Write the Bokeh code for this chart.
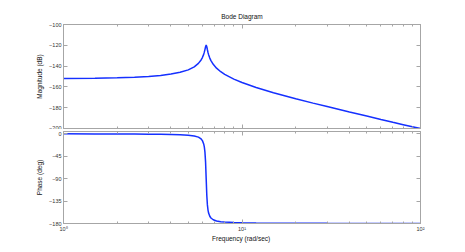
from bokeh.plotting import figure
from bokeh.layouts import column
from bokeh.models import LinearAxis, LogAxis, FixedTicker, Range1d
from bokeh.embed import file_html
from bokeh.resources import INLINE

# ---- data (frequency in rad/sec) ----
freq = [1, 1.5, 2, 2.5, 3, 3.5, 4, 4.5, 5, 5.4, 5.7, 5.9, 6.0, 6.1, 6.15, 6.2, 6.25, 6.3,
        6.35, 6.4, 6.45, 6.5, 6.6, 6.7, 6.9, 7.2, 7.6, 8, 9, 10, 12, 15, 20, 25, 30, 40,
        50, 60, 70, 80, 90, 100]
mag_db = [-152.0, -151.7, -151.3, -150.7, -150.0, -149.0, -147.7, -146.0, -143.6,
          -140.7, -137.4, -134.1, -131.8, -128.7, -126.6, -124.1, -121.3, -119.8,
          -121.4, -124.3, -126.9, -129.0, -132.3, -134.7, -138.3, -142.0, -145.4, -147.9,
          -152.5, -155.8, -160.6, -165.6, -171.4, -175.6, -178.9, -184.1, -188.0, -191.3,
          -194.0, -196.3, -198.4, -200.0]
phase_deg = [-0.2, -0.3, -0.5, -0.7, -0.9, -1.1, -1.5, -2.0, -3.0,
             -4.4, -6.8, -10.4, -13.8, -20.4, -26.5, -36.9, -56.4, -90.0,
             -123.3, -142.7, -153.0, -159.0, -165.5, -169.0, -172.5, -174.9, -176.4, -177.2,
             -178.1, -178.6, -179.0, -179.3, -179.5, -179.6, -179.7, -179.8, -179.8, -179.8,
             -179.9, -179.9, -179.9, -179.9]

x_major = [1, 10, 100]
x_minor = [2, 3, 4, 5, 6, 7, 8, 9, 20, 30, 40, 50, 60, 70, 80, 90]
x_labels = {1: "10⁰", 10: "10¹", 100: "10²"}
mag_ticks = [-200, -180, -160, -140, -120, -100]
phase_ticks = [-180, -135, -90, -45, 0]

title_text = "Bode Diagram"
mag_label = "Magnitude (dB)"
phase_label = "Phase (deg)"
x_label = "Frequency  (rad/sec)"

AX = "#a6a6a6"
FONT = "Liberation Sans"
LINE = "#1530ff"
W = 455
LEFT = 63
RIGHT_EDGE = 420


def style_axis(ax, show_labels, minor=True):
    ax.axis_line_color = AX
    ax.major_tick_line_color = AX
    ax.minor_tick_line_color = AX if minor else None
    ax.major_tick_in = 4
    ax.major_tick_out = 0
    ax.minor_tick_in = 2
    ax.minor_tick_out = 0
    ax.major_label_text_font = FONT
    ax.axis_label_text_font = FONT
    ax.axis_label_text_font_style = "normal"
    ax.axis_label_text_color = "#111111"
    ax.axis_label_text_font_size = "6.5px"
    if show_labels:
        ax.major_label_text_font_size = "5.5px"
        ax.major_label_text_color = "#333333"
        ax.major_label_standoff = 2
    else:
        ax.major_label_text_font_size = "1px"
        ax.major_label_text_color = None
        ax.major_label_standoff = 0


def make_fig(height, yr, yticks, ylabel, top, bottom, xlabels):
    p = figure(width=W, height=height, x_axis_type="log",
               x_range=Range1d(1, 100), y_range=Range1d(*yr),
               output_backend="svg", toolbar_location=None,
               min_border_left=LEFT, min_border_right=W - RIGHT_EDGE,
               min_border_top=top, min_border_bottom=bottom)
    p.grid.visible = False
    p.outline_line_color = AX
    p.background_fill_color = "white"
    p.border_fill_color = "white"

    xt = FixedTicker(ticks=x_major, minor_ticks=x_minor)
    yt = FixedTicker(ticks=yticks)

    bx = p.xaxis[0]
    bx.ticker = xt
    bx.major_label_overrides = x_labels
    style_axis(bx, xlabels)
    if xlabels:
        bx.major_label_standoff = 2
        bx.axis_label = x_label
        bx.axis_label_standoff = 0

    ly = p.yaxis[0]
    ly.ticker = yt
    style_axis(ly, True, minor=False)
    ly.axis_label = ylabel
    ly.axis_label_standoff = 3

    ax_top = LogAxis(ticker=xt)
    style_axis(ax_top, False)
    p.add_layout(ax_top, "above")
    ax_right = LinearAxis(ticker=yt)
    style_axis(ax_right, False, minor=False)
    p.add_layout(ax_right, "right")
    return p


p1 = make_fig(129, (-200, -100), mag_ticks, mag_label, 24, 1, False)
p1.title.text = title_text
p1.title.align = "center"
p1.title.text_font = FONT
p1.title.text_font_size = "6.5px"
p1.title.text_font_style = "normal"
p1.title.text_color = "#111111"
p1.title.standoff = 9
p1.line(freq, mag_db, line_color=LINE, line_width=1.5)

p2 = make_fig(118, (-180, 4.5), phase_ticks, phase_label, 2, 24, True)
p2.line(freq, phase_deg, line_color=LINE, line_width=1.5)

layout = column(p1, p2, spacing=0)
open("out.html", "w").write(file_html(layout, INLINE))
